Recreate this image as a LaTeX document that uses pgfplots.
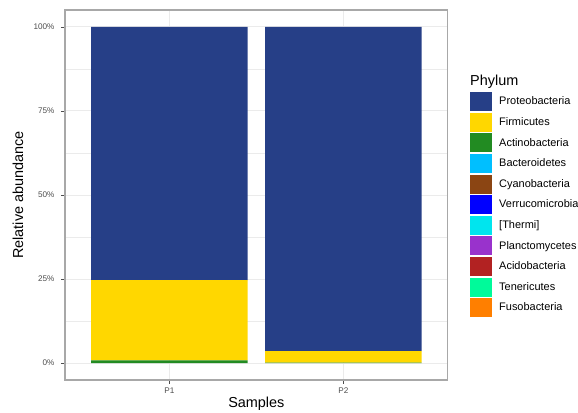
\documentclass[border=0pt]{standalone}
\usepackage{pgfplots}
\pgfplotsset{compat=1.18}
\usepackage{fontspec}
\setmainfont{Liberation Sans}
\definecolor{proteo}{HTML}{263F87}
\definecolor{firmi}{HTML}{FFD700}
\definecolor{actino}{HTML}{228B22}
\definecolor{bactero}{HTML}{00BFFF}
\definecolor{cyano}{HTML}{8B4513}
\definecolor{verru}{HTML}{0000FF}
\definecolor{thermi}{HTML}{00E5EE}
\definecolor{plancto}{HTML}{9932CC}
\definecolor{acido}{HTML}{B22222}
\definecolor{teneri}{HTML}{00FA9A}
\definecolor{fuso}{HTML}{FF7F00}
\definecolor{gridc}{HTML}{EBEBEB}
\definecolor{tickc}{HTML}{4D4D4D}
\definecolor{framec}{HTML}{A8A8A8}
\begin{document}
\begin{tikzpicture}
\useasboundingbox (0,0) rectangle (578bp,413bp);
\clip (0,0) rectangle (578bp,413bp);
\begin{axis}[
  at={(65bp,33bp)}, anchor=south west,
  scale only axis, width=382.7bp, height=370bp,
  ybar stacked, bar width=0.9,
  xmin=0.4, xmax=2.6, ymin=-5, ymax=105,
  xtick={1,2}, xticklabels={P1,P2},
  ytick={0,25,50,75,100},
  yticklabels={0\%,25\%,50\%,75\%,100\%},
  minor ytick={12.5,37.5,62.5,87.5},
  ymajorgrids, xmajorgrids, yminorgrids,
  major grid style={draw=gridc, line width=0.9bp},
  minor grid style={draw=gridc, line width=0.45bp},
  axis line style={draw=framec, line width=1.1bp},
  tick align=outside, major tick length=4bp, minor tick length=0pt,
  tick style={draw=tickc, line width=0.6bp},
  xtick pos=bottom, ytick pos=left,
  ticklabel style={font=\fontsize{8.2}{10}\selectfont, text=tickc},
  yticklabel style={xshift=-3bp},
  xlabel={Samples}, ylabel={Relative abundance},
  label style={font=\fontsize{14.5}{17}\selectfont},
  xlabel style={at={(axis description cs:0.5,-0.065)}, anchor=center},
  ylabel style={at={(axis description cs:-0.1228,0.5)}, anchor=center},
  legend image code/.code={\fill[#1,draw=none] (0bp,-9.5bp) rectangle (22bp,9.5bp);},
  reverse legend,
  legend cell align=left,
  legend style={at={(axis description cs:1.0583,0.826)}, anchor=north west,
    draw=none, fill=none, inner sep=0pt, row sep=1.6bp, column sep=7bp,
    font=\fontsize{11}{12}\selectfont, nodes={inner sep=0pt}},
]
\addplot[fill=fuso, draw=none] coordinates {(1,0) (2,0)};
\addlegendentry{Fusobacteria}
\addplot[fill=teneri, draw=none] coordinates {(1,0) (2,0)};
\addlegendentry{Tenericutes}
\addplot[fill=acido, draw=none] coordinates {(1,0) (2,0)};
\addlegendentry{Acidobacteria}
\addplot[fill=plancto, draw=none] coordinates {(1,0) (2,0)};
\addlegendentry{Planctomycetes}
\addplot[fill=thermi, draw=none] coordinates {(1,0) (2,0)};
\addlegendentry{[Thermi]}
\addplot[fill=verru, draw=none] coordinates {(1,0) (2,0)};
\addlegendentry{Verrucomicrobia}
\addplot[fill=cyano, draw=none] coordinates {(1,0) (2,0)};
\addlegendentry{Cyanobacteria}
\addplot[fill=bactero, draw=none] coordinates {(1,0) (2,0)};
\addlegendentry{Bacteroidetes}
\addplot[fill=actino, draw=none] coordinates {(1,0.8) (2,0.15)};
\addlegendentry{Actinobacteria}
\addplot[fill=firmi, draw=none] coordinates {(1,23.9) (2,3.4)};
\addlegendentry{Firmicutes}
\addplot[fill=proteo, draw=none] coordinates {(1,75.3) (2,96.45)};
\addlegendentry{Proteobacteria}
\addlegendimage{empty legend}
\addlegendentry{\hspace{-29bp}\raisebox{4bp}{\fontsize{14.5}{17}\selectfont Phylum}}
\end{axis}
\end{tikzpicture}
\end{document}
